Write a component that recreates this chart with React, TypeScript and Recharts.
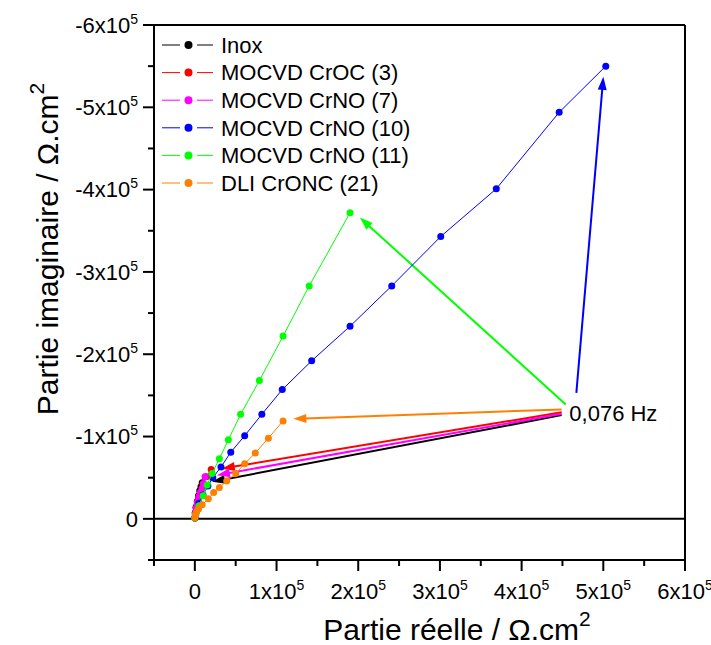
import React from 'react';
import {
  ScatterChart,
  Scatter,
  XAxis,
  YAxis,
  ReferenceLine,
  ReferenceDot,
  Legend,
} from 'recharts';

const FONT = '"Liberation Sans", Arial, sans-serif';

// Nyquist data: real part and imaginary part, Ω.cm²
const inoxRe = [0, 500, 1500, 3000, 4500, 6000, 7500, 9000];
const inoxIm = [-1000, -7000, -14000, -21000, -28000, -34000, -39000, -44000];

const croc3Re = [0, 1000, 2500, 4500, 7000, 10000, 14000, 20000];
const croc3Im = [-1000, -8000, -16000, -24000, -33000, -42000, -51000, -60000];

const crno7Re = [0, 500, 1500, 3000, 5000, 7000, 9000, 10500, 12500];
const crno7Im = [-1000, -7000, -13000, -20000, -27000, -32000, -37000, -43000, -51000];

const crno10Re = [0, 1500, 5000, 10000, 16000, 22000, 32000, 44000, 61000, 82000, 107000, 143000, 190000, 241000, 301000, 369000, 446000, 503000];
const crno10Im = [-1500, -8000, -19000, -29000, -40000, -50000, -63000, -81000, -101000, -127000, -157000, -192000, -234000, -283000, -343000, -401000, -494000, -550000];

const crno11Re = [0, 1500, 5000, 10000, 15000, 21000, 30000, 41000, 56000, 79000, 108000, 140000, 190000];
const crno11Im = [-1000, -6500, -16000, -28000, -41000, -55000, -73000, -96000, -127000, -168000, -222000, -283000, -372000];

const cronc21Re = [0, 500, 2000, 4500, 9000, 16500, 23000, 30000, 39000, 50000, 61000, 74000, 90000, 108000];
const cronc21Im = [-1500, -5000, -8500, -12000, -17000, -24500, -32000, -38000, -46000, -55000, -67000, -80000, -98000, -119000];

const seriesNames = ['Inox', 'MOCVD CrOC (3)', 'MOCVD CrNO (7)', 'MOCVD CrNO (10)', 'MOCVD CrNO (11)', 'DLI CrONC (21)'];
const seriesRe = [inoxRe, croc3Re, crno7Re, crno10Re, crno11Re, cronc21Re];
const seriesIm = [inoxIm, croc3Im, crno7Im, crno10Im, crno11Im, cronc21Im];
const colors = ['#000000', '#FF0000', '#FF00FF', '#0000FF', '#00FF00', '#FF8000'];

// 0,076 Hz annotation arrows (from label to last point of each series)
const arrowStartRe = [449000, 449000, 449000, 467000, 454000, 449000];
const arrowStartIm = [-126000, -129500, -127600, -153000, -139000, -133000];
const arrowEndRe = [21000, 33000, 27000, 500000, 202000, 120600];
const arrowEndIm = [-45000, -61000, -53000, -537000, -366000, -121500];
const freqLabel = '0,076 Hz';
const freqLabelRe = 458400;
const freqLabelIm = -128600;

const xTicks = [-50000, 0, 50000, 100000, 150000, 200000, 250000, 300000, 350000, 400000, 450000, 500000, 550000, 600000];
const yTicks = [-600000, -550000, -500000, -450000, -400000, -350000, -300000, -250000, -200000, -150000, -100000, -50000, 0, 50000];

const tickParts = (v: number) => (v === 0 ? ['0', ''] : [`${v / 100000}x10`, '5']);

const XTick = (props: any) => {
  const { x, y, payload } = props;
  const v = payload.value;
  const major = v % 100000 === 0;
  const [main, sup] = tickParts(v);
  return (
    <g>
      <line x1={x} y1={y} x2={x} y2={y + (major ? 11 : 6)} stroke="#000" strokeWidth={2} />
      {major && (
        <text x={x} y={y + 39} textAnchor="middle" fontSize={22} fontFamily={FONT} fill="#000">
          {main}
          {sup && <tspan dy={-9} fontSize={14}>{sup}</tspan>}
        </text>
      )}
    </g>
  );
};

const YTick = (props: any) => {
  const { x, y, payload } = props;
  const v = payload.value;
  const major = v % 100000 === 0;
  const [main, sup] = tickParts(v);
  return (
    <g>
      <line x1={x - (major ? 11 : 6)} y1={y} x2={x} y2={y} stroke="#000" strokeWidth={2} />
      {major && (
        <text x={x - 16} y={y + 7.7} textAnchor="end" fontSize={22} fontFamily={FONT} fill="#000">
          {main}
          {sup && <tspan dy={-9} fontSize={14}>{sup}</tspan>}
        </text>
      )}
    </g>
  );
};

const arrowShape = (color: string) => (p: any) => {
  const { x1, y1, x2, y2 } = p;
  const dx = x2 - x1;
  const dy = y2 - y1;
  const len = Math.hypot(dx, dy) || 1;
  const ux = dx / len;
  const uy = dy / len;
  const hl = 13;
  const hw = 4.5;
  const bx = x2 - ux * hl;
  const by = y2 - uy * hl;
  return (
    <g>
      <line x1={x1} y1={y1} x2={bx + ux * 2} y2={by + uy * 2} stroke={color} strokeWidth={2} />
      <polygon
        points={`${x2},${y2} ${bx - uy * hw},${by + ux * hw} ${bx + uy * hw},${by - ux * hw}`}
        fill={color}
      />
    </g>
  );
};

const renderLegend = () => (
  <svg width={290} height={175} style={{ display: 'block' }}>
    {seriesNames.map((name, i) => {
      const cy = 15 + i * 27.6;
      return (
        <g key={name}>
          <line x1={2} x2={20} y1={cy} y2={cy} stroke={colors[i]} strokeWidth={1} />
          <circle cx={28.5} cy={cy} r={4} fill={colors[i]} />
          <line x1={37} x2={53} y1={cy} y2={cy} stroke={colors[i]} strokeWidth={1} />
          <text x={61} y={cy + 7.7} fontSize={22} fontFamily={FONT} fill="#000">
            {name}
          </text>
        </g>
      );
    })}
  </svg>
);

export default function App() {
  const series = seriesNames.map((name, i) => ({
    name,
    color: colors[i],
    data: seriesRe[i].map((re, j) => ({ x: re, y: seriesIm[i][j] })),
  }));

  return (
    <div style={{ position: 'absolute', left: 0, top: 0, background: '#fff' }}>
      <ScatterChart width={711} height={645} margin={{ top: 25, right: 26, bottom: 35, left: 74 }}>
        <XAxis
          type="number"
          dataKey="x"
          domain={[-50000, 600000]}
          ticks={xTicks}
          interval={0}
          allowDataOverflow
          height={50}
          tickSize={0}
          tickMargin={0}
          tickLine={false}
          axisLine={{ stroke: '#000', strokeWidth: 2 }}
          tick={<XTick />}
          label={{
            content: (p: any) => (
              <text
                x={p.viewBox.x + 303}
                y={p.viewBox.y + 80}
                textAnchor="middle"
                fontSize={30}
                fontFamily={FONT}
                fill="#000"
              >
                Partie réelle / Ω.cm
                <tspan dy={-14} fontSize={21}>2</tspan>
              </text>
            ),
          }}
        />
        <YAxis
          type="number"
          dataKey="y"
          domain={[-600000, 50000]}
          reversed
          ticks={yTicks}
          interval={0}
          allowDataOverflow
          width={80}
          tickSize={0}
          tickMargin={0}
          tickLine={false}
          axisLine={{ stroke: '#000', strokeWidth: 2 }}
          tick={<YTick />}
          label={{
            content: (p: any) => {
              const cx = p.viewBox.x - 16;
              const cy = p.viewBox.y + 224;
              return (
                <text
                  x={cx}
                  y={cy}
                  transform={`rotate(-90, ${cx}, ${cy})`}
                  textAnchor="middle"
                  fontSize={30}
                  fontFamily={FONT}
                  fill="#000"
                >
                  Partie imaginaire / Ω.cm
                  <tspan dy={-14} fontSize={21}>2</tspan>
                </text>
              );
            },
          }}
        />
        <ReferenceLine y={-600000} stroke="#000" strokeWidth={2} />
        <ReferenceLine x={600000} stroke="#000" strokeWidth={2} />
        <ReferenceLine y={0} stroke="#000" strokeWidth={2} />
        {series.map((s) => (
          <Scatter
            key={s.name}
            name={s.name}
            data={s.data}
            fill={s.color}
            line={{ stroke: s.color, strokeWidth: 1 }}
            lineType="joint"
            isAnimationActive={false}
            shape={(p: any) => <circle cx={p.cx} cy={p.cy} r={3.5} fill={s.color} />}
          />
        ))}
        {colors.map((c, i) => (
          <ReferenceLine
            key={`arrow-${i}`}
            segment={[
              { x: arrowStartRe[i], y: arrowStartIm[i] },
              { x: arrowEndRe[i], y: arrowEndIm[i] },
            ]}
            stroke={c}
            shape={arrowShape(c)}
          />
        ))}
        <ReferenceDot
          x={freqLabelRe}
          y={freqLabelIm}
          r={1}
          shape={(p: any) => (
            <text x={p.cx} y={p.cy + 7.7} fontSize={22} fontFamily={FONT} fill="#000">
              {freqLabel}
            </text>
          )}
        />
        <Legend
          layout="vertical"
          align="center"
          verticalAlign="middle"
          content={renderLegend}
          wrapperStyle={{ left: 160, top: 30, width: 290, height: 175 }}
        />
      </ScatterChart>
    </div>
  );
}
